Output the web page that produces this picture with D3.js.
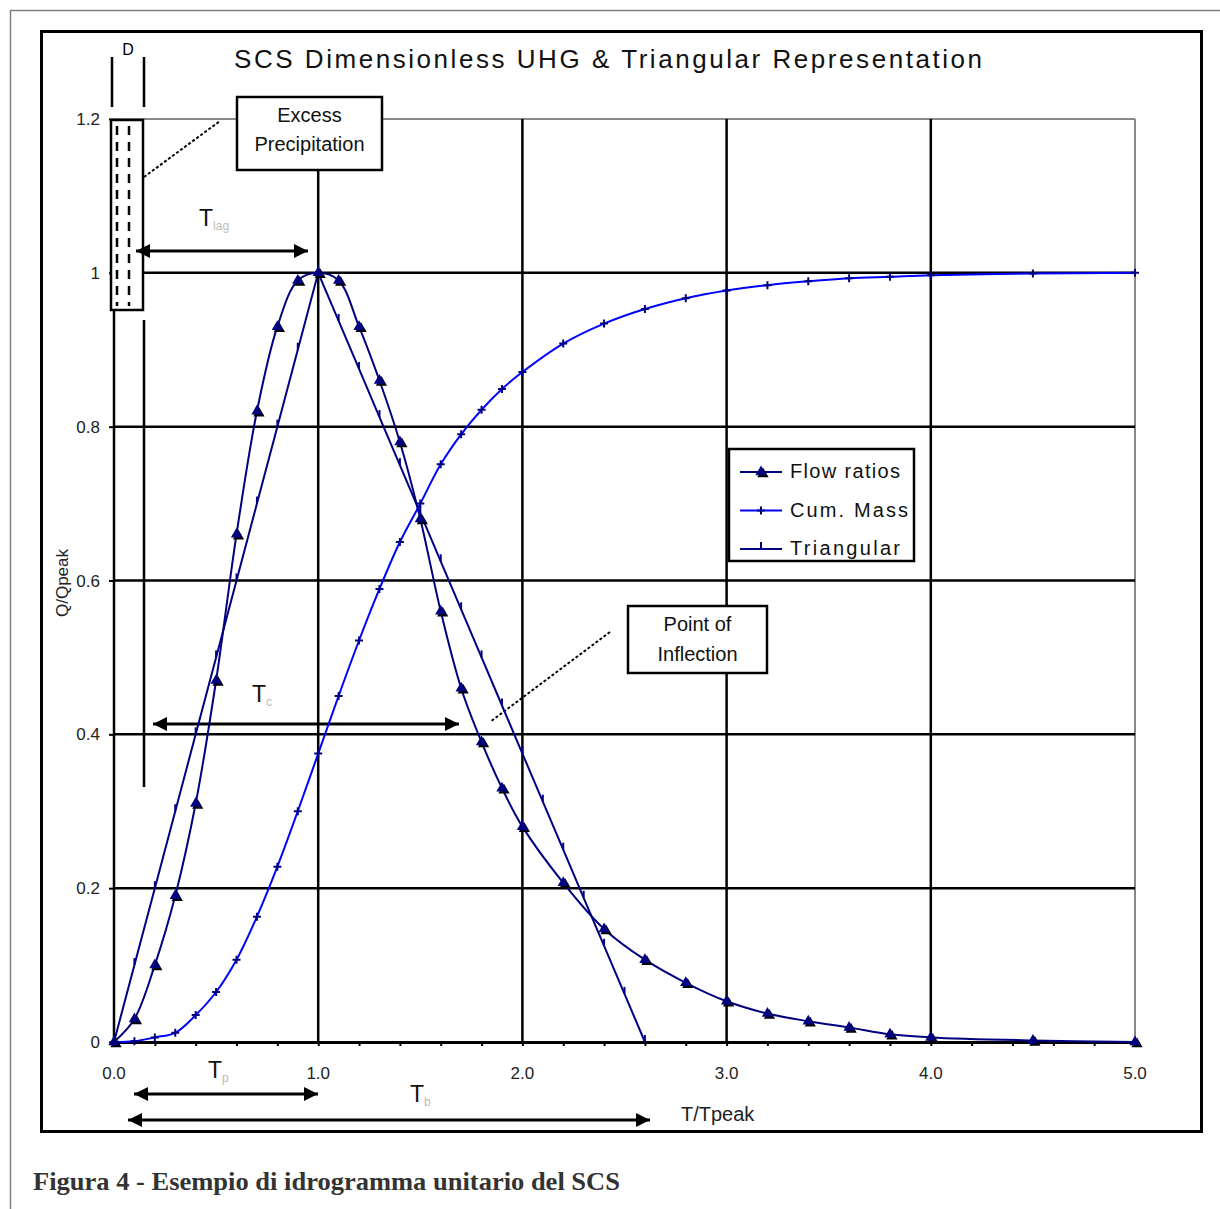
<!DOCTYPE html>
<html>
<head>
<meta charset="utf-8">
<script src="https://cdn.jsdelivr.net/npm/d3@7"></script>
<style>
  html, body { margin: 0; padding: 0; background: #fff; }
  svg { display: block; font-family: "Liberation Sans", Arial, sans-serif; }
</style>
</head>
<body>
<svg id="chart" width="1220" height="1209"></svg>
<script>
// SCS dimensionless unit hydrograph: time ratio T/Tpeak
const timeRatio = [0, 0.1, 0.2, 0.3, 0.4, 0.5, 0.6, 0.7, 0.8, 0.9, 1.0, 1.1, 1.2, 1.3, 1.4, 1.5,
  1.6, 1.7, 1.8, 1.9, 2.0, 2.2, 2.4, 2.6, 2.8, 3.0, 3.2, 3.4, 3.6, 3.8, 4.0, 4.5, 5.0];
// discharge ratio Q/Qpeak
const flowRatio = [0, 0.03, 0.10, 0.19, 0.31, 0.47, 0.66, 0.82, 0.93, 0.99, 1.00, 0.99, 0.93, 0.86,
  0.78, 0.68, 0.56, 0.46, 0.39, 0.33, 0.28, 0.207, 0.147, 0.107, 0.077, 0.053, 0.037, 0.027, 0.019,
  0.010, 0.006, 0.002, 0];
// cumulative mass ratio
const cumMass = [0, 0.001, 0.006, 0.012, 0.035, 0.065, 0.107, 0.163, 0.228, 0.300, 0.375, 0.450,
  0.522, 0.589, 0.650, 0.700, 0.751, 0.790, 0.822, 0.849, 0.871, 0.908, 0.934, 0.953, 0.967, 0.977,
  0.984, 0.989, 0.993, 0.995, 0.997, 0.999, 1.000];
// triangular representation
const triTime = [0, 0.1, 0.2, 0.3, 0.4, 0.5, 0.6, 0.7, 0.8, 0.9, 1.0, 1.1, 1.2, 1.3, 1.4, 1.5, 1.6,
  1.7, 1.8, 1.9, 2.0, 2.1, 2.2, 2.3, 2.4, 2.5, 2.6];
const triFlow = [0, 0.1, 0.2, 0.3, 0.4, 0.5, 0.6, 0.7, 0.8, 0.9, 1.0, 0.9375, 0.875, 0.8125, 0.75,
  0.6875, 0.625, 0.5625, 0.5, 0.4375, 0.375, 0.3125, 0.25, 0.1875, 0.125, 0.0625, 0];

const xTicks = [0, 1, 2, 3, 4, 5];
const xTickLabels = ["0.0", "1.0", "2.0", "3.0", "4.0", "5.0"];
const xMinorTicks = d3.range(0, 26).map(i => i * 0.2);
const yTicks = [0, 0.2, 0.4, 0.6, 0.8, 1.0, 1.2];
const yTickLabels = ["0", "0.2", "0.4", "0.6", "0.8", "1", "1.2"];
const legendLabels = ["Flow ratios", "Cum. Mass", "Triangular"];

const NAVY = "#000080", BLUE = "#0000ff";

const svg = d3.select("#chart");
const x = d3.scaleLinear().domain([0, 5]).range([114, 1135]);
const y = d3.scaleLinear().domain([0, 1.2]).range([1042, 119]);

// page frame and chart frame
svg.append("rect").attr("x", 10.5).attr("y", 10.5).attr("width", 1230).attr("height", 1230)
  .attr("fill", "none").attr("stroke", "#808080").attr("stroke-width", 1.5);
svg.append("rect").attr("x", 41.5).attr("y", 31.5).attr("width", 1160).attr("height", 1100)
  .attr("fill", "#fff").attr("stroke", "#000").attr("stroke-width", 3);

// title
svg.append("text").attr("x", 234).attr("y", 68).attr("font-size", 26)
  .attr("textLength", 748).attr("lengthAdjust", "spacing").attr("fill", "#111")
  .text("SCS Dimensionless UHG & Triangular Representation");

// grid
const g = svg.append("g");
g.append("line").attr("x1", x(0)).attr("x2", x(5)).attr("y1", y(1.2)).attr("y2", y(1.2))
  .attr("stroke", "#888").attr("stroke-width", 2);
g.append("line").attr("x1", x(5)).attr("x2", x(5)).attr("y1", y(1.2)).attr("y2", y(0))
  .attr("stroke", "#888").attr("stroke-width", 2);
g.selectAll(".hg").data(yTicks.filter(v => v > 0 && v < 1.1)).join("line")
  .attr("x1", x(0)).attr("x2", x(5)).attr("y1", d => y(d)).attr("y2", d => y(d))
  .attr("stroke", "#000").attr("stroke-width", 2.5);
g.selectAll(".vg").data([1, 2, 3, 4]).join("line")
  .attr("x1", d => x(d)).attr("x2", d => x(d))
  .attr("y1", d => d === 1 ? 171 : y(1.2)).attr("y2", y(0))
  .attr("stroke", "#000").attr("stroke-width", 2.5);

// axes
const xAxis = d3.axisBottom(x).tickValues(xMinorTicks).tickSize(4).tickFormat("");
const xa = svg.append("g").attr("transform", `translate(0,${y(0)})`).call(xAxis);
xa.select(".domain").attr("stroke", "#000").attr("stroke-width", 3);
xa.selectAll(".tick line").attr("stroke", "#000").attr("stroke-width", 2);
svg.append("g").selectAll("text").data(xTicks).join("text")
  .attr("x", d => x(d)).attr("y", 1079).attr("text-anchor", "middle")
  .attr("font-size", 17).attr("fill", "#222")
  .text((d, i) => xTickLabels[i]);

const yAxis = d3.axisLeft(y).tickValues(yTicks).tickSize(5).tickFormat("");
const ya = svg.append("g").attr("transform", `translate(${x(0)},0)`).call(yAxis);
ya.select(".domain").attr("stroke", "#000").attr("stroke-width", 2.5).attr("d", `M0,${y(0)}V${y(1.2)}`);
ya.selectAll(".tick line").attr("stroke", "#000").attr("stroke-width", 2);
svg.append("g").selectAll("text").data(yTicks).join("text")
  .attr("x", 100).attr("y", d => y(d) + 6).attr("text-anchor", "end")
  .attr("font-size", 17).attr("fill", "#222")
  .text((d, i) => yTickLabels[i]);

svg.append("text").attr("transform", "translate(68,583) rotate(-90)")
  .attr("text-anchor", "middle").attr("font-size", 17).attr("fill", "#222").text("Q/Qpeak");
svg.append("text").attr("x", 681).attr("y", 1121).attr("font-size", 20)
  .attr("fill", "#222").text("T/Tpeak");

// duration D and excess precipitation bar
const ann = svg.append("g").attr("stroke", "#000").attr("stroke-width", 2.5).attr("fill", "none");
ann.append("line").attr("x1", 112).attr("x2", 112).attr("y1", 57).attr("y2", 107);
ann.append("line").attr("x1", 144).attr("x2", 144).attr("y1", 57).attr("y2", 107);
svg.append("text").attr("x", 128).attr("y", 55).attr("text-anchor", "middle")
  .attr("font-size", 16).text("D");
ann.append("rect").attr("x", 111).attr("y", 120).attr("width", 32).attr("height", 190)
  .attr("fill", "#fff");
ann.append("line").attr("x1", 117).attr("x2", 117).attr("y1", 126).attr("y2", 306)
  .attr("stroke-dasharray", "9,7");
ann.append("line").attr("x1", 129).attr("x2", 129).attr("y1", 126).attr("y2", 306)
  .attr("stroke-dasharray", "9,7");
ann.append("line").attr("x1", 144).attr("x2", 220).attr("y1", 177).attr("y2", 121)
  .attr("stroke-width", 2).attr("stroke-dasharray", "3,2");
ann.append("line").attr("x1", 144).attr("x2", 144).attr("y1", 320).attr("y2", 787);

// annotation boxes
function labelBox(x0, y0, w, h, lines, baselines) {
  svg.append("rect").attr("x", x0).attr("y", y0).attr("width", w).attr("height", h)
    .attr("fill", "#fff").attr("stroke", "#000").attr("stroke-width", 2.5);
  lines.forEach((t, i) => svg.append("text").attr("x", x0 + w / 2).attr("y", baselines[i])
    .attr("text-anchor", "middle").attr("font-size", 20).attr("fill", "#111").text(t));
}
labelBox(237, 97, 145, 73, ["Excess", "Precipitation"], [122, 151]);
ann.append("line").attr("x1", 610).attr("x2", 490).attr("y1", 632).attr("y2", 722)
  .attr("stroke-width", 2).attr("stroke-dasharray", "3,2");
labelBox(628, 606, 139, 67, ["Point of", "Inflection"], [631, 661]);

// time arrows
function arrow(x1, x2, yy) {
  const a = svg.append("g");
  a.append("line").attr("x1", x1).attr("x2", x2).attr("y1", yy).attr("y2", yy)
    .attr("stroke", "#000").attr("stroke-width", 3);
  a.append("path").attr("d", `M${x1},${yy}l14,-7v14z`).attr("fill", "#000");
  a.append("path").attr("d", `M${x2},${yy}l-14,-7v14z`).attr("fill", "#000");
}
function subLabel(x0, yy, sub) {
  const t = svg.append("text").attr("x", x0).attr("y", yy).attr("font-size", 23).attr("fill", "#111");
  t.append("tspan").text("T");
  t.append("tspan").attr("font-size", 12).attr("fill", "#bbb").attr("dy", 4).text(sub);
}
arrow(136, 308, 251);
subLabel(199, 226, "lag");
arrow(153, 459, 724);
subLabel(252, 702, "c");
arrow(134, 318, 1094);
subLabel(208, 1078, "p");
arrow(128, 650, 1120);
subLabel(410, 1102, "b");

// series
const pts = (xs, ys) => xs.map((t, i) => [t, ys[i]]);
const flowPts = pts(timeRatio, flowRatio);
const massPts = pts(timeRatio, cumMass);
const triPts = pts(triTime, triFlow);
const smooth = d3.line().x(d => x(d[0])).y(d => y(d[1])).curve(d3.curveCatmullRom.alpha(0.5));
const straight = d3.line().x(d => x(d[0])).y(d => y(d[1]));

const plot = svg.append("g");
plot.append("path").attr("d", straight(triPts)).attr("fill", "none").attr("stroke", NAVY).attr("stroke-width", 2);
plot.append("path").attr("d", smooth(massPts)).attr("fill", "none").attr("stroke", BLUE).attr("stroke-width", 2);
plot.append("path").attr("d", smooth(flowPts)).attr("fill", "none").attr("stroke", NAVY).attr("stroke-width", 2);

const tri = d3.symbol().type(d3.symbolTriangle).size(55);
function flowMarker(sel) {
  sel.append("path").attr("d", tri()).attr("transform", "translate(2,2)").attr("fill", "#000");
  sel.append("path").attr("d", tri()).attr("fill", NAVY);
}
function massMarker(sel) {
  sel.append("path").attr("d", "M-4,0H4M0,-4V4").attr("stroke", NAVY).attr("stroke-width", 2);
}
function triMarker(sel) {
  sel.append("path").attr("d", "M0,0V-7").attr("stroke", NAVY).attr("stroke-width", 2);
}
plot.selectAll(".tm").data(triPts).join("g")
  .attr("transform", d => `translate(${x(d[0])},${y(d[1])})`).call(triMarker);
plot.selectAll(".mm").data(massPts).join("g")
  .attr("transform", d => `translate(${x(d[0])},${y(d[1])})`).call(massMarker);
plot.selectAll(".fm").data(flowPts).join("g")
  .attr("transform", d => `translate(${x(d[0])},${y(d[1])})`).call(flowMarker);

// legend
const lg = svg.append("g");
lg.append("rect").attr("x", 729).attr("y", 449).attr("width", 185).attr("height", 112)
  .attr("fill", "#fff").attr("stroke", "#000").attr("stroke-width", 2.5);
const legendColors = [NAVY, BLUE, NAVY];
const legendMarkers = [flowMarker, massMarker, triMarker];
legendLabels.forEach((lab, i) => {
  const yy = 472 + i * 38.5;
  lg.append("line").attr("x1", 740).attr("x2", 782).attr("y1", yy).attr("y2", yy)
    .attr("stroke", legendColors[i]).attr("stroke-width", 2);
  lg.append("g").attr("transform", `translate(761,${yy})`).call(legendMarkers[i]);
  lg.append("text").attr("x", 790).attr("y", yy + 6).attr("font-size", 20).attr("fill", "#111")
    .attr("textLength", i === 1 ? 118 : 110).attr("lengthAdjust", "spacing").text(lab);
});

// caption
svg.append("text").attr("x", 33).attr("y", 1190)
  .style("font-family", "'Liberation Serif', 'Times New Roman', serif")
  .attr("font-weight", "bold").attr("font-size", 25).attr("fill", "#333")
  .attr("textLength", 587).attr("lengthAdjust", "spacingAndGlyphs")
  .text("Figura 4 - Esempio di idrogramma unitario del SCS");
</script>
</body>
</html>
